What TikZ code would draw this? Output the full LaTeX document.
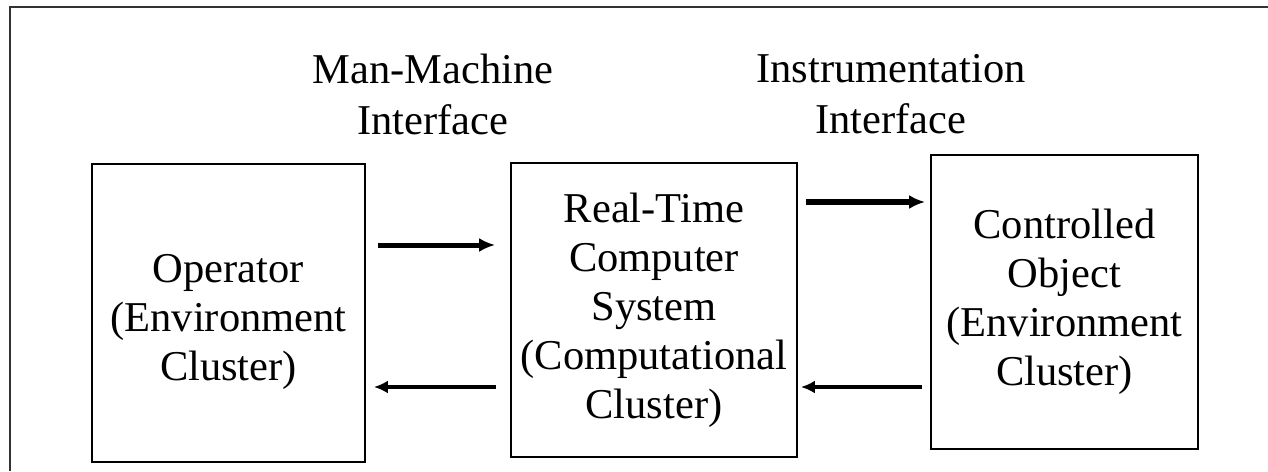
\documentclass[tikz,border=0pt]{standalone}
\usepackage{fontspec}
\setmainfont{Liberation Serif}
\usetikzlibrary{arrows.meta}

\begin{document}
\begin{tikzpicture}[
		x=1pt, y=-1pt,
		block/.style={draw, line width=1.8pt, inner sep=0pt, align=center,
				font=\fontsize{42.5}{49}\selectfont},
		iface/.style={align=center, inner sep=0pt, font=\fontsize{42.5}{51}\selectfont},
		flow/.style={line width=5pt, -{Latex[length=16pt,width=14pt]}},
		thinflow/.style={line width=4pt, -{Latex[length=14pt,width=13pt]}}
	]

	\useasboundingbox (0,0) rectangle (1268,471);
	\draw[line width=1.6pt, black!80] (1268,7) -- (10,7) -- (10,471);

	% the three clusters
	\node[block, minimum width=273pt, minimum height=298pt] (op) at (228.5,313)
		{\rule{0pt}{46pt}Operator\\(Environment\\Cluster)};
	\node[block, minimum width=286pt, minimum height=294pt] (rt) at (654,310)
		{Real-Time\\Computer\\System\\(Computational\\Cluster)};
	\node[block, minimum width=267pt, minimum height=294pt] (ctl) at (1064.5,302)
		{Controlled\\Object\\(Environment\\Cluster)};

	% interface labels
	\node[iface] (mmi) at (433,94) {Man-Machine\\Interface};
	\node[iface] (ii) at (891,94) {Instrumentation\\Interface};

	\coordinate (rowA) at (0,245);
	\coordinate (rowB) at (0,202);
	\coordinate (rowC) at (0,387);

	\draw[flow, shorten <=12pt, shorten >=15pt] (op.east |- rowA) -- (rt.west |- rowA);
	\draw[flow, line width=6.5pt, shorten <=8pt, shorten >=5pt] (rt.east |- rowB) -- (ctl.west |- rowB);
	\draw[thinflow, shorten <=14pt, shorten >=8pt] (rt.west |- rowC) -- (op.east |- rowC);
	\draw[thinflow, shorten <=8pt, shorten >=3pt] (ctl.west |- rowC) -- (rt.east |- rowC);

\end{tikzpicture}
\end{document}
